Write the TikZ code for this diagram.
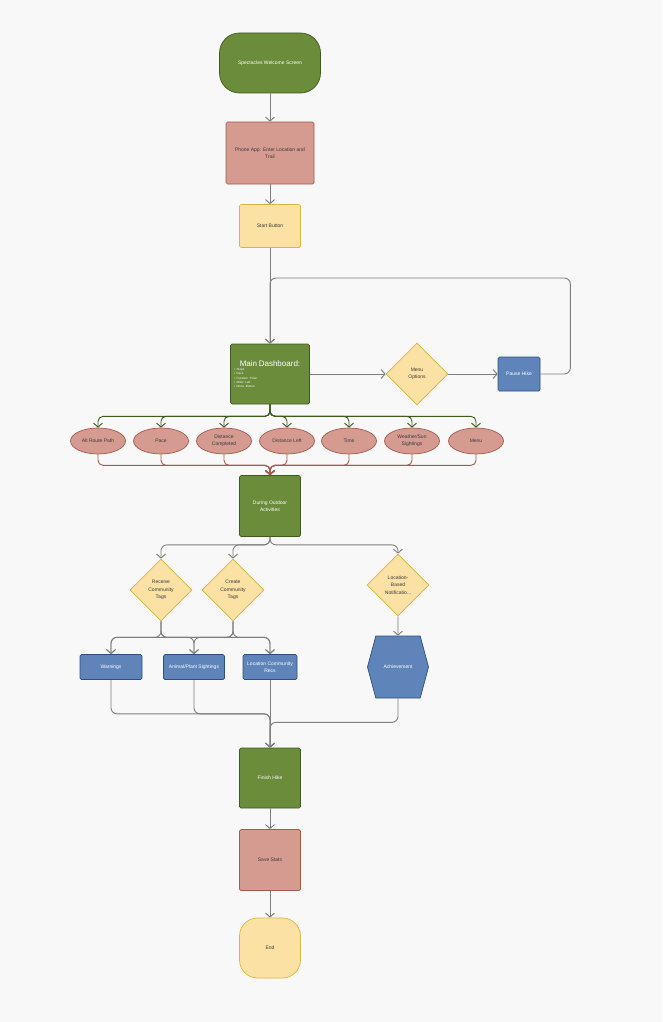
\documentclass[tikz,border=0pt]{standalone}
\usepackage{fontspec}
\setmainfont{Liberation Sans}
\usetikzlibrary{arrows.meta,positioning,shapes.geometric,shapes.symbols}
\definecolor{pagebg}{HTML}{F8F8F8}
\definecolor{hgreen}{HTML}{6B8C3A}
\definecolor{hgreenD}{HTML}{3F5A1E}
\definecolor{hred}{HTML}{D59A90}
\definecolor{hredD}{HTML}{A65A4E}
\definecolor{hyel}{HTML}{FBE1A3}
\definecolor{hyelD}{HTML}{D8B83C}
\definecolor{hblue}{HTML}{5F84B9}
\definecolor{hblueD}{HTML}{2F4E80}
\definecolor{hgray}{HTML}{7E7E7E}
\definecolor{htext}{HTML}{3A3A3A}
\tikzset{
  shp/.style={draw, line width=0.7pt, font=\fontsize{5}{7.4}\selectfont, align=center, inner sep=1pt},
  gbox/.style={shp, fill=hgreen, draw=hgreenD, text=white, rounded corners=1.5pt},
  rbox/.style={shp, fill=hred, draw=hredD, text=htext, rounded corners=1.5pt},
  ybox/.style={shp, fill=hyel, draw=hyelD, text=htext, rounded corners=1.5pt},
  bbox/.style={shp, fill=hblue, draw=hblueD, text=white, rounded corners=1.5pt},
  choice/.style={shp, diamond, aspect=1, fill=hyel, draw=hyelD, text=htext, minimum size=62pt, inner sep=0pt},
  stat/.style={shp, ellipse, fill=hred, draw=hredD, text=htext, minimum width=55pt, minimum height=26pt, inner sep=0pt},
  flow/.style={-{Straight Barb[length=4pt,width=9pt]}, line width=0.9pt, draw=hgray},
  elbow/.style={flow, rounded corners=6pt},
  gflow/.style={flow, draw=hgreenD, rounded corners=5pt},
  rflow/.style={flow, draw=hredD, rounded corners=5pt}
}

\begin{document}
\begin{tikzpicture}[x=1pt,y=-1pt]
  \fill[pagebg] (0,0) rectangle (662,1022);
  % top of the flow
  \node[gbox, minimum width=101pt, minimum height=60pt, rounded corners=20pt] (welcome) at (270,63) {Spectacles Welcome Screen};
  \node[rbox, minimum width=88pt, minimum height=62pt] (phone) at (270,153) {Phone App: Enter Location and\\Trail};
  \node[ybox, minimum width=61pt, minimum height=43pt] (start) at (270,226) {Start Button};
  \node[gbox, minimum width=79pt, minimum height=60pt, text width=72pt, align=left] (dash) at (270,374)
    {{\centering\fontsize{8}{9.5}\selectfont Main Dashboard:\par}
     {\fontsize{3}{4.3}\selectfont \textbullet\ Steps\\ \textbullet\ Pace\\ \textbullet\ Duration Timer\\ \textbullet\ Miles Left\\ \textbullet\ Menu Button\par}};
  \node[choice] (menuopt) at (417,374) {Menu\\Options};
  \node[bbox, minimum width=42pt, minimum height=34pt] (pause) at (519,374) {Pause Hike};
  % stats row
  \node[stat] (alt) at (98,441) {Alt Route Path};
  \node[stat] (pace) at (161,441) {Pace};
  \node[stat] (dcomp) at (224,441) {Distance\\Completed};
  \node[stat] (dleft) at (287,441) {Distance Left};
  \node[stat] (time) at (349,441) {Time};
  \node[stat] (weather) at (412,441) {Weather/Sun\\Sightings};
  \node[stat] (menu) at (476,441) {Menu};
  % during the hike
  \node[gbox, minimum width=61pt, minimum height=61pt] (during) at (270,506) {During Outdoor\\Activities};
  \node[choice] (recv) at (161,590) {Receive\\Community\\Tags};
  \node[choice] (create) at (233,590) {Create\\Community\\Tags};
  \node[choice] (notify) at (398,585) {Location-\\Based\\Notificatio...};
  \node[bbox, minimum width=62pt, minimum height=25pt] (warn) at (111,667) {Warnings};
  \node[bbox, minimum width=61pt, minimum height=25pt] (animal) at (194,667) {Animal/Plant Sightings};
  \node[bbox, minimum width=54pt, minimum height=25pt] (recs) at (270,667) {Location Community\\Recs};
  \node[shp, signal, signal to=east and west, signal pointer angle=150, fill=hblue, draw=hblueD, text=white,
    minimum width=61pt, minimum height=62pt] (ach) at (398,667) {Achievement};
  % end of the flow
  \node[gbox, minimum width=61pt, minimum height=60pt] (finish) at (270,778) {Finish Hike};
  \node[rbox, minimum width=61pt, minimum height=61pt] (save) at (270,860) {Save Stats};
  \node[ybox, minimum width=61pt, minimum height=60pt, rounded corners=18pt] (end) at (270,948) {End};

  \draw[flow] (welcome) -- (phone);
  \draw[flow] (phone) -- (start);
  \draw[flow] (start) -- (dash);
  \draw[flow] (dash) -- (menuopt);
  \draw[flow] (menuopt) -- (pause);
  \draw[elbow] (pause.east) -- ++(30,0) -- ++(0,-96) -| (dash.north);

  \draw[gflow] (dash.south) -- ++(0,12) -| (alt.north);
  \draw[gflow] (dash.south) -- ++(0,12) -| (pace.north);
  \draw[gflow] (dash.south) -- ++(0,12) -| (dcomp.north);
  \draw[gflow] (dash.south) -- ++(0,12) -| (dleft.north);
  \draw[gflow] (dash.south) -- ++(0,12) -| (time.north);
  \draw[gflow] (dash.south) -- ++(0,12) -| (weather.north);
  \draw[gflow] (dash.south) -- ++(0,12) -| (menu.north);

  \draw[rflow] (alt.south) -- ++(0,11) -| (during.north);
  \draw[rflow] (pace.south) -- ++(0,11) -| (during.north);
  \draw[rflow] (dcomp.south) -- ++(0,11) -| (during.north);
  \draw[rflow] (dleft.south) -- ++(0,11) -| (during.north);
  \draw[rflow] (time.south) -- ++(0,11) -| (during.north);
  \draw[rflow] (weather.south) -- ++(0,11) -| (during.north);
  \draw[rflow] (menu.south) -- ++(0,11) -| (during.north);

  \draw[elbow] (during.south) -- ++(0,8) -| (recv.north);
  \draw[elbow] (during.south) -- ++(0,8) -| (create.north);
  \draw[elbow] (during.south) -- ++(0,8) -| (notify.north);

  \draw[elbow] (recv.south) -- ++(0,16) -| (warn.north);
  \draw[elbow] (recv.south) -- ++(0,16) -| (animal.north);
  \draw[elbow] (recv.south) -- ++(0,16) -| (recs.north);
  \draw[elbow] (create.south) -- ++(0,16) -| (warn.north);
  \draw[elbow] (create.south) -- ++(0,16) -| (animal.north);
  \draw[elbow] (create.south) -- ++(0,16) -| (recs.north);
  \draw[flow] (notify) -- (ach);

  \draw[elbow] (warn.south) -- ++(0,34) -| (finish.north);
  \draw[elbow] (animal.south) -- ++(0,34) -| (finish.north);
  \draw[flow] (recs) -- (finish);
  \draw[elbow] (ach.south) -- ++(0,24) -| (finish.north);
  \draw[flow] (finish) -- (save);
  \draw[flow] (save) -- (end);
\end{tikzpicture}
\end{document}
